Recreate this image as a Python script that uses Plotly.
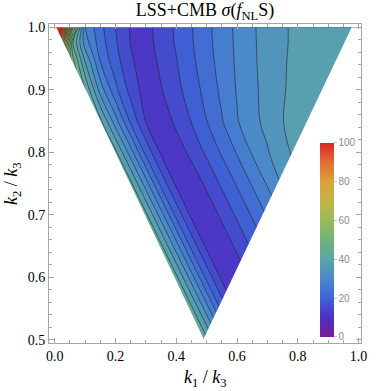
import plotly.graph_objects as go

# grid: k1/k3 across, k2/k3 up
k1_over_k3 = [0.0, 0.03, 0.06, 0.1, 0.15, 0.2, 0.25, 0.3, 0.35, 0.4, 0.45,
              0.5, 0.55, 0.6, 0.65, 0.7, 0.75, 0.8, 0.85, 0.9, 0.95, 1.0]
k2_over_k3 = [0.5, 0.55, 0.6, 0.65, 0.7, 0.75, 0.8, 0.85, 0.9, 0.95, 0.975, 1.0]

# sigma(fNL S), one row per k2/k3 value (nodes outside the triangle are masked)
sigma_050 = [80, 80, 80, 80, 80, 80, 80, 80, 80, 63.3, 52.2, 41, 29.8, 18.7, 11.1, 9.4, 12.8, 16.7, 20.4, 24.4, 28.4, 32]
sigma_055 = [80, 80, 80, 80, 80, 80, 80, 80, 63.3, 52.2, 41, 29.8, 18.7, 11.1, 9.4, 12.8, 16.7, 20.4, 24.4, 28.4, 32, 35.3]
sigma_060 = [80, 80, 80, 80, 80, 80, 80, 63.3, 52.2, 41, 29.8, 18.7, 11.1, 9.4, 12.8, 16.7, 20.4, 24.4, 28.4, 32, 35.3, 36.9]
sigma_065 = [80, 80, 80, 80, 80, 80, 63.3, 52.2, 41, 29.8, 18.7, 11.1, 9.4, 12.8, 16.7, 20.4, 24.4, 28.4, 32, 35.3, 36.9, 38]
sigma_070 = [80, 80, 80, 80, 80, 63.3, 52.2, 41, 29.8, 18.7, 11.1, 9.4, 12.8, 16.7, 20.4, 24.4, 28.4, 32, 35.3, 36.9, 38, 38.5]
sigma_075 = [80, 80, 80, 80, 63.3, 52.2, 41, 29.8, 18.7, 11.1, 9.4, 12.8, 16.7, 20.4, 24.4, 28.4, 32.5, 35.6, 36.9, 38, 38.5, 39]
sigma_080 = [80, 80, 80, 63.3, 52.2, 41, 29.8, 18.7, 11.4, 9.7, 13.1, 16.7, 20.5, 24.3, 28.4, 31.6, 35.2, 36.8, 37.5, 38, 38.5, 39]
sigma_085 = [74.5, 67.8, 61.1, 52.2, 41, 29.6, 19.2, 11.8, 9.25, 13.0, 16.15, 19.9, 23.7, 27.7, 30.6, 33.35, 35.95, 36.8, 37.7, 38.3, 38.9, 39.1]
sigma_090 = [72, 63, 55, 44, 30.2, 21.0, 14.5, 10.2, 11.75, 14.8, 18.0, 21.4, 24.9, 28.3, 31.0, 33.5, 35.8, 36.8, 37.7, 38.3, 38.9, 39.1]
sigma_095 = [80, 62, 48.6, 35.0, 23.3, 17.4, 12.5, 9.6, 13.1, 15.9, 19.2, 22.5, 25.65, 28.6, 31.3, 33.6, 35.7, 36.75, 37.6, 38.4, 39, 39.2]
sigma_0975 = [100, 70, 44, 30, 21.9, 16.5, 11.9, 10.3, 13.6, 16.4, 19.6, 22.8, 25.9, 28.7, 31.4, 33.6, 35.6, 36.7, 37.6, 38.4, 39, 39.2]
sigma_100 = [115, 96, 56, 28, 21.1, 16, 11.6, 10.6, 13.8, 16.6, 19.75, 23.0, 26.0, 28.8, 31.5, 33.6, 35.6, 36.7, 37.6, 38.4, 39, 39.2]

sigma_grid = [sigma_050, sigma_055, sigma_060, sigma_065, sigma_070, sigma_075,
              sigma_080, sigma_085, sigma_090, sigma_095, sigma_0975, sigma_100]

x_ticks = [0.0, 0.2, 0.4, 0.6, 0.8, 1.0]
y_ticks = [0.5, 0.6, 0.7, 0.8, 0.9, 1.0]
bar_ticks = [0, 20, 40, 60, 80, 100]

# corners of the allowed triangle
tri_left = (0.005, 1.0)
tri_right = (0.977, 1.0)
tri_bottom = (0.49, 0.502)

rainbow = [[0.0, "#7a1d98"], [0.1, "#4d30c2"], [0.2, "#3e63d6"], [0.3, "#4a88cc"],
           [0.4, "#5aa4a8"], [0.5, "#72b27c"], [0.6, "#97ba5a"], [0.7, "#c2b544"],
           [0.8, "#dca03c"], [0.9, "#e26d33"], [1.0, "#d8262a"]]

frame = "#a6a6a6"
serif = "Liberation Serif"

fig = go.Figure()

fig.add_trace(go.Contour(
    x=k1_over_k3, y=k2_over_k3, z=sigma_grid,
    colorscale=rainbow, showscale=False,
    contours=dict(start=0, end=100, size=4, coloring="fill"),
    line=dict(color="rgba(35,35,55,0.75)", width=0.8),
    hoverinfo="skip",
))

# white out everything outside the triangle
fig.add_trace(go.Scatter(
    x=[-0.1, tri_left[0], tri_bottom[0], tri_bottom[0], -0.1],
    y=[tri_left[1], tri_left[1], tri_bottom[1], 0.4, 0.4],
    fill="toself", fillcolor="white", mode="lines", line=dict(width=0),
    hoverinfo="skip", showlegend=False,
))
fig.add_trace(go.Scatter(
    x=[tri_right[0], 1.1, 1.1, tri_bottom[0], tri_bottom[0]],
    y=[tri_right[1], tri_right[1], 0.4, 0.4, tri_bottom[1]],
    fill="toself", fillcolor="white", mode="lines", line=dict(width=0),
    hoverinfo="skip", showlegend=False,
))

# smooth bar legend
fig.add_trace(go.Scatter(
    x=[None], y=[None], mode="markers", showlegend=False, hoverinfo="skip",
    marker=dict(color=[0], cmin=0, cmax=100, colorscale=rainbow, showscale=True,
                colorbar=dict(x=0.867, xanchor="left", y=0.019, yanchor="bottom",
                              len=0.608, thickness=14, xpad=0, ypad=0, outlinewidth=0,
                              tickvals=bar_ticks, ticks="outside", ticklen=3,
                              tickcolor="#c8c8c8",
                              tickfont=dict(family="Liberation Sans", size=10, color="#8c8c8c"))),
))

axis_style = dict(showgrid=False, zeroline=False, showline=True, linecolor=frame, linewidth=1,
                  mirror="ticks", ticks="inside", ticklen=5, tickcolor=frame, tickformat=".1f",
                  ticklabeloverflow="allow", tickmode="array",
                  tickfont=dict(family=serif, size=14, color="black"))

fig.update_xaxes(range=[-0.019, 1.008], tickvals=x_ticks,
                 minor=dict(ticks="inside", ticklen=3, dtick=0.05, tick0=0, tickcolor=frame), **axis_style)
fig.update_yaxes(range=[0.495, 1.0056], tickvals=y_ticks,
                 minor=dict(ticks="inside", ticklen=3, dtick=0.02, tick0=0.5, tickcolor=frame), **axis_style)

fig.update_layout(
    width=379, height=391,
    margin=dict(l=49, r=14, t=24, b=48),
    plot_bgcolor="white", paper_bgcolor="white",
    title=dict(text="LSS+CMB <i>σ</i>(<i>f</i><sub>NL</sub>S)", x=0.5, xref="paper", xanchor="center",
               y=0.975, yref="container", yanchor="middle",
               font=dict(family=serif, size=18, color="black")),
    annotations=[
        dict(text="<i>k</i><sub>1</sub> / <i>k</i><sub>3</sub>", xref="paper", yref="paper",
             x=0.5, y=-0.11, xanchor="center", yanchor="middle", showarrow=False,
             font=dict(family=serif, size=18, color="black")),
        dict(text="<i>k</i><sub>2</sub> / <i>k</i><sub>3</sub>", xref="paper", yref="paper",
             x=-0.117, y=0.5, xanchor="center", yanchor="middle", showarrow=False, textangle=-90,
             font=dict(family=serif, size=18, color="black")),
    ],
)

# drop the page's default body margin so the figure sits at the window corner
fig.write_html("out.html", config={"displayModeBar": False},
               post_script="document.body.style.margin = '0px';")
